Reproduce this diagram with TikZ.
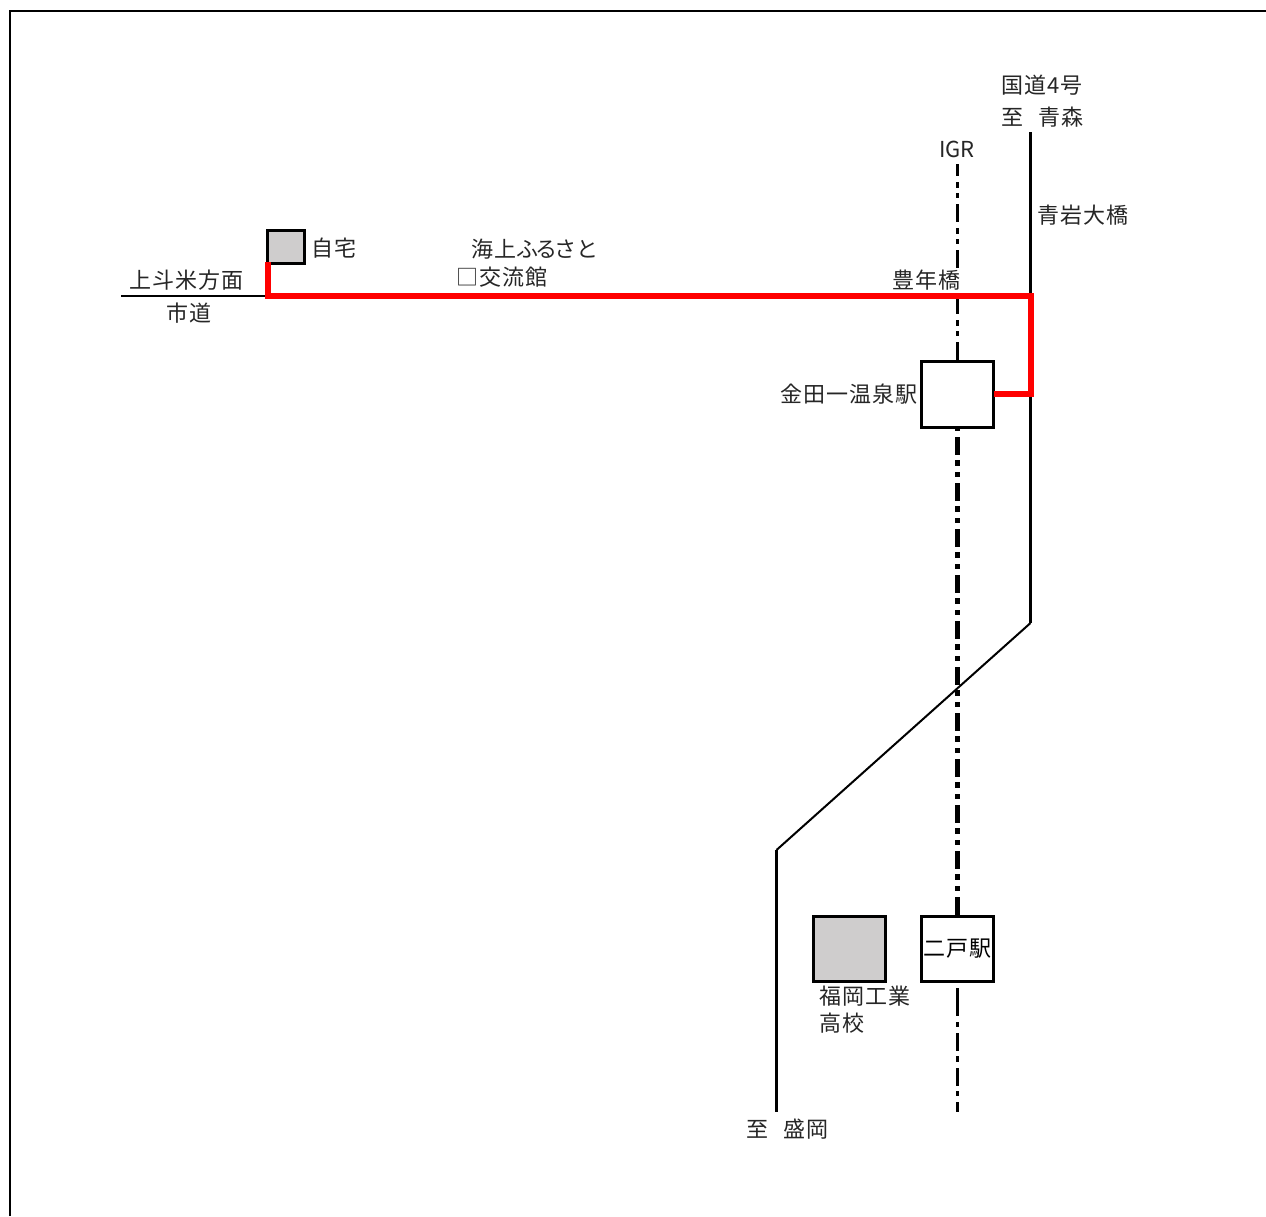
\documentclass[tikz,border=0pt]{standalone}
\usepackage{fontspec}
\setmainfont[LetterSpace=5]{Noto Sans CJK JP}
\definecolor{hausgrau}{HTML}{CFCDCD}

\begin{document}
\begin{tikzpicture}[%show background rectangle,
        x=1pt, y=-1pt,
        font=\fontsize{22}{22}\selectfont,
        lbl/.style={anchor=west, inner sep=0pt, text=black!85},
        box/.style={draw, line width=3pt, inner sep=0pt, outer sep=0pt, fill=white},
        road/.style={line width=3pt},
        thinroad/.style={line width=2pt},
        rail/.style={line width=3pt},
        railthick/.style={line width=5pt},
        route/.style={draw=red, line width=5.5pt}
        ]
            \useasboundingbox (0,0) rectangle (1266,1216);

            % Rahmen
            \coordinate (F1) at (9.5,1216);
            \coordinate (F2) at (9.5,11);
            \coordinate (F3) at (1266,11);
            \draw [thinroad] (F1) -- (F2) -- (F3);

            % Strassen
            \coordinate (R1) at (1030.5,132);
            \coordinate (R2) at (1030.5,623);
            \coordinate (R3) at (776.5,850);
            \coordinate (R4) at (776.5,1112);
            \coordinate (M1) at (121,296);
            \coordinate (M2) at (268,296);
            \draw [road] (R1) -- (R2);
            \draw [thinroad] (R2) -- (R3);
            \draw [road] (R3) -- (R4);
            \draw [thinroad] (M1) -- (M2);

            % Bahnhoefe, Gebaeude
            \node (kindaichi) [box, minimum width=72pt, minimum height=66pt] at (957.5,394) {};
            \node (ninohe) [box, minimum width=72pt, minimum height=65pt] at (957.5,948.5) {二戸駅};
            \node (school) [box, fill=hausgrau, minimum width=72pt, minimum height=65pt] at (849,948.5) {};
            \node (home) [box, fill=hausgrau, minimum width=37pt, minimum height=33pt] at (286,247) {};

            % Bahnlinie
            \coordinate (B1) at (957.5,164);
            \coordinate (B2) at (957.5,1112);
            \draw [rail, dash pattern=on 18pt off 6pt on 6pt off 5pt on 5pt off 6pt, dash phase=6pt] (B1) -- (kindaichi.north);
            \draw [railthick, dash pattern=on 18pt off 5pt on 6pt off 6pt on 5pt off 6pt, dash phase=36pt] (kindaichi.south) -- (ninohe.north);
            \draw [rail, dash pattern=on 28pt off 6pt on 5pt off 6pt on 18pt off 5pt on 6pt off 6pt on 18pt off 5pt on 5pt off 6pt on 10pt off 6pt] (ninohe.south |- 0,988) -- (B2);

            % Beschriftung
            \node (kokudo) [lbl] at (1001,85) {国道4号};
            \node (aomori) [lbl] at (1001,117) {至\hspace*{15pt}青森};
            \node (igr) [lbl] at (939,149) {\addfontfeature{LetterSpace=0}IGR};
            \node (aoiwa) [lbl] at (1037,215) {青岩大橋};
            \node (jitaku) [lbl] at (311,248) {自宅};
            \node (kaijo) [lbl] at (471,249) {海上{\addfontfeature{LetterSpace=-14}ふるさ}と};
            \node (koryu) [lbl] at (456,277) {□交流館};
            \node (kamitomai) [lbl] at (129,280) {上斗米方面};
            \node (shido) [lbl] at (166,313) {市道};
            \node (hounen) [lbl, fill=white] at (892,280) {豊年橋};
            \node (onsen) [lbl] at (780,394) {金田一温泉駅};
            \node (fukuoka) [lbl] at (819,996) {福岡工業};
            \node (koko) [lbl] at (819,1023) {高校};
            \node (morioka) [lbl] at (746,1129) {至\hspace*{15pt}盛岡};

            % Fahrtroute
            \coordinate (W1) at (268,262);
            \coordinate (W2) at (1031,296);
            \coordinate (W3) at (1031,394);
            \draw [route] (W1) -- (M2) -- (W2) -- (W3) -- (kindaichi.east);

        \end{tikzpicture}
\end{document}
